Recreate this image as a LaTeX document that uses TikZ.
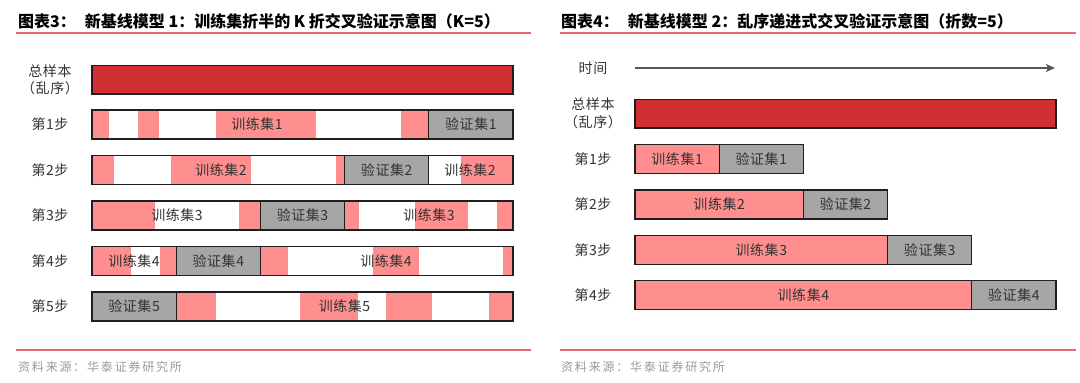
\documentclass[tikz,border=0pt]{standalone}
\usepackage{fontspec}
\setmainfont{Noto Sans CJK SC}
\newfontfamily\lblfont{Noto Sans CJK SC}[LetterSpace=4]
\newfontfamily\srcfont{Noto Sans CJK SC}[LetterSpace=15]
\usetikzlibrary{arrows.meta}
\definecolor{tred}{HTML}{D03034}
\definecolor{tpink}{HTML}{FF8F8F}
\definecolor{tgray}{HTML}{A6A6A6}
\definecolor{tline}{HTML}{E06A6A}
\definecolor{ttext}{HTML}{333333}
\definecolor{tsrc}{HTML}{9A9A9A}
\definecolor{tedge}{HTML}{1E1E1E}
\definecolor{tarrow}{HTML}{555555}
\newcommand\pkseg[3]{\fill[tpink] (#1,#3-14.5) rectangle (#2,#3+14.5);}
\newcommand\gyseg[3]{\filldraw[fill=tgray,barline] (#1,#3-14.5) rectangle (#2,#3+14.5);}
\newcommand\outl[3]{\draw[barline] (#1,#3-14.5) rectangle (#2,#3+14.5);}
\newcommand\tdot{{\fontsize{7}{7}\selectfont\mdseries\color{gray!45}.}}
\begin{document}
\begin{tikzpicture}[x=1pt,y=-1pt,
  titletext/.style={anchor=west,inner sep=0,font=\fontsize{16}{18}\selectfont\bfseries,text=black},
  lbl/.style={inner sep=0,font=\lblfont\fontsize{14}{17.5}\selectfont,text=ttext},
  rowlbl/.style={lbl,align=center},
  srctext/.style={anchor=west,inner sep=0,font=\srcfont\fontsize{12}{14}\selectfont,text=tsrc},
  sect/.style={tline,line width=1.3pt},
  barline/.style={draw=tedge,line width=1.2pt}]
\useasboundingbox (0,0) rectangle (1080,383);
\fill[white] (0,0) rectangle (1080,383);

% ---------- titles ----------
\node[titletext] (t1) at (18,21) {图表3：\tdot\hspace{7pt}新基线模型 1：训练集折半的 K 折交叉验证示意图（K=5）};
\node[titletext] (t2) at (561,21) {图表4：\tdot\hspace{7pt}新基线模型 2：乱序递进式交叉验证示意图（折数=5）};
\draw[sect] (16,33) -- (531,33);
\draw[sect] (560,33) -- (1076,33);
\draw[sect] (16,350) -- (531,350);
\draw[sect] (560,350) -- (1076,350);
\node[srctext] (s1) at (18,367) {资料来源：华泰证券研究所};
\node[srctext] (s2) at (561,367) {资料来源：华泰证券研究所};

% ---------- left panel ----------
\node[rowlbl] (lt) at (50,80) {总样本\\（乱序）};
\filldraw[fill=tred,barline] (92,65.5) rectangle (513,94);

% step 1
\node[lbl] (ls1) at (50,124.5) {第1步};
\pkseg{92}{109.2}{124.5}\pkseg{137.8}{159.1}{124.5}\pkseg{215.9}{316.4}{124.5}\pkseg{400.8}{428.8}{124.5}
\gyseg{428.8}{513}{124.5}\outl{92}{513}{124.5}
\node[lbl] (l1a) at (257,124.5) {训练集1};
\node[lbl] (l1b) at (470.9,124.5) {验证集1};

% step 2
\node[lbl] (ls2) at (50,170) {第2步};
\pkseg{92}{114.4}{170}\pkseg{170.5}{251}{170}\pkseg{335.7}{344.6}{170}\pkseg{461.4}{513}{170}
\gyseg{344.6}{428.8}{170}\outl{92}{513}{170}
\node[lbl] (l2a) at (221,170) {训练集2};
\node[lbl] (l2b) at (386.7,170) {验证集2};
\node[lbl] (l2c) at (470,170) {训练集2};

% step 3
\node[lbl] (ls3) at (50,215.5) {第3步};
\pkseg{92}{154.7}{215.5}\pkseg{239.3}{260.4}{215.5}\pkseg{344.6}{358.9}{215.5}\pkseg{414.9}{467.9}{215.5}\pkseg{496.5}{513}{215.5}
\gyseg{260.4}{344.6}{215.5}\outl{92}{513}{215.5}
\node[lbl] (l3a) at (177,215.5) {训练集3};
\node[lbl] (l3b) at (302.5,215.5) {验证集3};
\node[lbl] (l3c) at (429,215.5) {训练集3};

% step 4
\node[lbl] (ls4) at (50,261) {第4步};
\pkseg{92}{130.6}{261}\pkseg{159.8}{176.2}{261}\pkseg{260.4}{288.2}{261}\pkseg{372.5}{418.7}{261}\pkseg{503.4}{513}{261}
\gyseg{176.2}{260.4}{261}\outl{92}{513}{261}
\node[lbl] (l4a) at (134,261) {训练集4};
\node[lbl] (l4b) at (218.3,261) {验证集4};
\node[lbl] (l4c) at (386,261) {训练集4};

% step 5
\node[lbl] (ls5) at (50,306.5) {第5步};
\pkseg{176.2}{215.9}{306.5}\pkseg{299.6}{357.8}{306.5}\pkseg{385.6}{432.1}{306.5}\pkseg{488.6}{513}{306.5}
\gyseg{92}{176.2}{306.5}\outl{92}{513}{306.5}
\node[lbl] (l5a) at (134.1,306.5) {验证集5};
\node[lbl] (l5b) at (344.5,306.5) {训练集5};

% ---------- right panel ----------
\node[lbl] (rtime) at (593,68) {时间};
\coordinate (ta) at (635,68);
\coordinate (tb) at (1055,68);
\draw[tarrow,line width=1.5pt,-{Stealth[length=9pt,width=8pt,inset=2pt]}] (ta) -- (tb);

\node[rowlbl] (rt) at (593,113.5) {总样本\\（乱序）};
\filldraw[fill=tred,barline] (635,99.5) rectangle (1056,128);

\node[lbl] (rs1) at (593,159) {第1步};
\filldraw[fill=tpink,barline] (635,159-14.5) rectangle (719.2,159+14.5);
\gyseg{719.2}{803.4}{159}
\node[lbl] (r1a) at (677.1,159) {训练集1};
\node[lbl] (r1b) at (761.3,159) {验证集1};

\node[lbl] (rs2) at (593,204.5) {第2步};
\filldraw[fill=tpink,barline] (635,204.5-14.5) rectangle (803.4,204.5+14.5);
\gyseg{803.4}{887.6}{204.5}
\node[lbl] (r2a) at (719.2,204.5) {训练集2};
\node[lbl] (r2b) at (845.5,204.5) {验证集2};

\node[lbl] (rs3) at (593,250) {第3步};
\filldraw[fill=tpink,barline] (635,250-14.5) rectangle (887.6,250+14.5);
\gyseg{887.6}{971.8}{250}
\node[lbl] (r3a) at (761.3,250) {训练集3};
\node[lbl] (r3b) at (929.7,250) {验证集3};

\node[lbl] (rs4) at (593,295) {第4步};
\filldraw[fill=tpink,barline] (635,295-14.5) rectangle (971.8,295+14.5);
\gyseg{971.8}{1056}{295}
\node[lbl] (r4a) at (803.4,295) {训练集4};
\node[lbl] (r4b) at (1013.9,295) {验证集4};
\end{tikzpicture}
\end{document}
